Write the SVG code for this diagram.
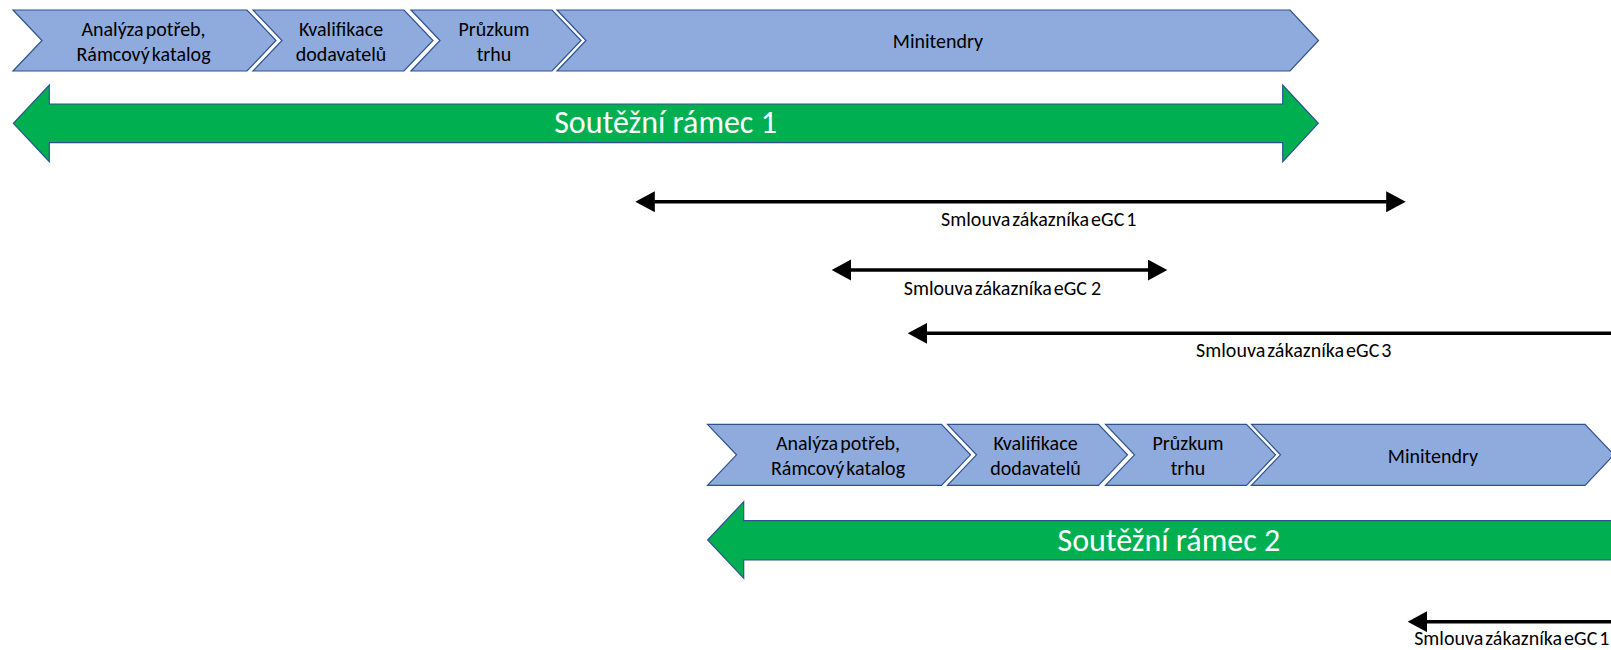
<svg xmlns="http://www.w3.org/2000/svg" width="1611" height="650" viewBox="0 0 1611 650">
<style>
.chev{fill:#8FAADC;stroke:#2F528F;stroke-width:1.2}
.band{fill:#00B050;stroke:#2F528F;stroke-width:1.2}
.t{font-family:Carlito,Lato,"Liberation Sans",sans-serif;font-size:20px;fill:#000;text-anchor:middle;word-spacing:-2.5px}
.big{font-family:Carlito,Lato,"Liberation Sans",sans-serif;font-size:32px;font-weight:300;fill:#fff;text-anchor:middle}
.lbl{font-family:Carlito,Lato,"Liberation Sans",sans-serif;font-size:20px;fill:#000;text-anchor:middle;word-spacing:-2.5px}
.ln{stroke:#000;stroke-width:3.4;fill:none}
</style>
<defs>
<marker id="ah" markerUnits="userSpaceOnUse" markerWidth="21" markerHeight="22" viewBox="0 0 21 22" refX="0.5" refY="10.5" orient="auto-start-reverse">
<path d="M0,0 L19.5,10.5 L0,21 Z" fill="#000"/>
</marker>
</defs>

<g id="top-analyza">
<polygon class="chev" points="13,10 247,10 276,40.5 247,71 13,71 42,40.5"/>
<text class="t" x="143.5" y="36">Analýza potřeb,</text>
<text class="t" x="143.5" y="60.5">Rámcový katalog</text>
</g>
<g id="top-kvalifikace">
<polygon class="chev" points="253,10 404,10 433,40.5 404,71 253,71 282,40.5"/>
<text class="t" x="341" y="36">Kvalifikace</text>
<text class="t" x="341" y="60.5">dodavatelů</text>
</g>
<g id="top-pruzkum">
<polygon class="chev" points="411,10 552,10 581,40.5 552,71 411,71 440,40.5"/>
<text class="t" x="494" y="36">Průzkum</text>
<text class="t" x="494" y="60.5">trhu</text>
</g>
<g id="top-minitendry">
<polygon class="chev" points="557,10 1290,10 1318.5,40.5 1290,71 557,71 586,40.5"/>
<text class="t" x="938" y="48.3">Minitendry</text>
</g>
<g id="ramec1">
<polygon class="band" points="13.3,123.3 49.3,85 49.3,104 1282.7,104 1282.7,85 1318.3,123.3 1282.7,161.7 1282.7,142.7 49.3,142.7 49.3,161.7"/>
<text class="big" x="665.5" y="133.3">Soutěžní rámec 1</text>
</g>

<g id="bottom-analyza">
<polygon class="chev" points="707.5,424.3 941.5,424.3 970.5,454.8 941.5,485.3 707.5,485.3 736.5,454.8"/>
<text class="t" x="838" y="450.3">Analýza potřeb,</text>
<text class="t" x="838" y="474.8">Rámcový katalog</text>
</g>
<g id="bottom-kvalifikace">
<polygon class="chev" points="947.5,424.3 1098.5,424.3 1127.5,454.8 1098.5,485.3 947.5,485.3 976.5,454.8"/>
<text class="t" x="1035.5" y="450.3">Kvalifikace</text>
<text class="t" x="1035.5" y="474.8">dodavatelů</text>
</g>
<g id="bottom-pruzkum">
<polygon class="chev" points="1105.5,424.3 1246.5,424.3 1275.5,454.8 1246.5,485.3 1105.5,485.3 1134.5,454.8"/>
<text class="t" x="1188" y="450.3">Průzkum</text>
<text class="t" x="1188" y="474.8">trhu</text>
</g>
<g id="bottom-minitendry">
<polygon class="chev" points="1251.5,424.3 1585,424.3 1614,454.8 1585,485.3 1251.5,485.3 1280.5,454.8"/>
<text class="t" x="1433" y="462.6">Minitendry</text>
</g>
<g id="ramec2">
<polygon class="band" points="707.7,540 743.7,501.7 743.7,520.7 1700,520.7 1700,560 743.7,560 743.7,578.3"/>
<text class="big" x="1168.8" y="551">Soutěžní rámec 2</text>
</g>

<g id="connectors">
<line class="ln" x1="654.3" y1="201.7" x2="1386.7" y2="201.7" marker-start="url(#ah)" marker-end="url(#ah)"/>
<line class="ln" x1="850.7" y1="270" x2="1148.3" y2="270" marker-start="url(#ah)" marker-end="url(#ah)"/>
<line class="ln" x1="926.7" y1="333.3" x2="1640" y2="333.3" marker-start="url(#ah)"/>
<line class="ln" x1="1426.7" y1="621.7" x2="1640" y2="621.7" marker-start="url(#ah)"/>
</g>
<g id="labels">
<text class="lbl" x="1038.8" y="226">Smlouva zákazníka eGC 1</text>
<text class="lbl" x="1002.5" y="295" xml:space="preserve">Smlouva zákazníka eGC  2</text>
<text class="lbl" x="1293.8" y="356.7">Smlouva zákazníka eGC 3</text>
<text class="lbl" x="1609.5" y="645" style="text-anchor:end">Smlouva zákazníka eGC 1</text>
</g>
</svg>
